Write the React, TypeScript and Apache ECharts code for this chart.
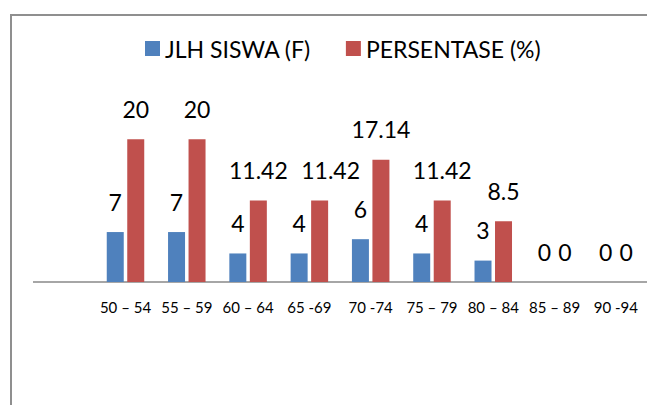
import React, { useEffect, useRef } from "react";
import * as echarts from "echarts";

const categories = ["50 – 54", "55 – 59", "60 – 64", "65 -69", "70 -74", "75 – 79", "80 – 84", "85 – 89", "90 -94"];
const jlhSiswa = [7, 7, 4, 4, 6, 4, 3, 0, 0];
const persentase = [20, 20, 11.42, 11.42, 17.14, 11.42, 8.5, 0, 0];
const seriesNames = ["JLH SISWA (F)", "PERSENTASE (%)"];

const FONT = "Lato, 'Open Sans', sans-serif";

export default function App() {
  const ref = useRef<HTMLDivElement>(null);
  useEffect(() => {
    if (!ref.current) return;
    const chart = echarts.init(ref.current, null, { renderer: "svg" });
    const label = {
      show: true,
      position: "top",
      distance: 19,
      fontSize: 23,
      fontFamily: FONT,
      color: "#000",
    };
    // In the source chart the label of the 4th red bar was nudged right.
    const redData = persentase.map((v, i) =>
      i === 3 ? { value: v, label: { offset: [11, 0] } } : v
    );
    chart.setOption({
      animation: false,
      backgroundColor: "#fff",
      legend: {
        left: 145,
        top: 37,
        padding: 0,
        itemWidth: 15,
        itemHeight: 15,
        itemGap: 35,
        icon: "rect",
        textStyle: { fontSize: 23, fontFamily: FONT, color: "#000" },
        data: seriesNames,
      },
      grid: { left: 94.85, right: 0.5, top: 103.6, bottom: 123, containLabel: false },
      xAxis: {
        type: "category",
        data: categories,
        axisLine: { show: false },
        axisTick: { show: false },
        axisLabel: { interval: 0, fontSize: 15, fontFamily: FONT, color: "#000", margin: 17 },
      },
      yAxis: {
        type: "value",
        min: 0,
        max: 25,
        show: false,
        splitLine: { show: false },
      },
      graphic: [
        { type: "line", shape: { x1: 10, y1: 15, x2: 647, y2: 15 }, style: { stroke: "#8f8f8f", lineWidth: 2 }, silent: true },
        { type: "line", shape: { x1: 11, y1: 14, x2: 11, y2: 405 }, style: { stroke: "#8f8f8f", lineWidth: 2 }, silent: true },
        { type: "line", shape: { x1: 33, y1: 282, x2: 647, y2: 282 }, style: { stroke: "#a6a6a6", lineWidth: 2 }, silent: true },
      ],
      series: [
        {
          name: seriesNames[0],
          type: "bar",
          data: jlhSiswa,
          barWidth: 17,
          barGap: "20.6%",
          itemStyle: { color: "#4F81BD" },
          label,
        },
        {
          name: seriesNames[1],
          type: "bar",
          data: redData,
          barWidth: 17,
          barGap: "20.6%",
          itemStyle: { color: "#C0504D" },
          label,
        },
      ],
    });
    return () => chart.dispose();
  }, []);
  return (
    <div
      ref={ref}
      style={{ position: "fixed", left: 0, top: 0, width: 647, height: 405, background: "#fff" }}
    />
  );
}
